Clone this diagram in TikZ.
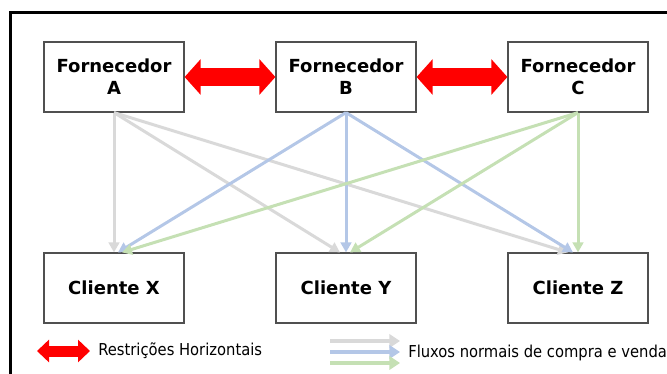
\documentclass[tikz,border=0pt]{standalone}
\usepackage{fontspec}
\setmainfont{DejaVu Sans}
\newfontfamily\legendfont{DejaVu Sans Condensed}
\usetikzlibrary{arrows.meta, calc}
\definecolor{myred}{RGB}{255,0,0}
\definecolor{mygrey}{RGB}{217,217,217}
\definecolor{myblue}{RGB}{180,199,231}
\definecolor{mygreen}{RGB}{197,224,180}
\definecolor{myedge}{RGB}{80,80,80}
\tikzstyle{party} = [draw=myedge, line width=0.9pt, fill=white,
    minimum width=105pt, minimum height=52.5pt, inner sep=0pt,
    font=\fontsize{13.5}{16.5}\selectfont\bfseries, align=center]
\tikzstyle{restr} = [myred, line width=14pt,
    {Triangle[length=12pt,width=26pt]}-{Triangle[length=12pt,width=26pt]}]
\tikzstyle{flow} = [line width=2.25pt, -{Triangle[length=7.5pt,width=8pt]}]
\tikzstyle{legendtext} = [anchor=west, inner sep=0pt,
    font=\legendfont\fontsize{12.3}{14}\selectfont]

\begin{document}
\begin{tikzpicture}[x=0.75pt, y=-0.75pt]
    \useasboundingbox (0,0) rectangle (667,374);

    % outer frame
    \draw[line width=2.25pt] (10.5,380) -- (10.5,12.5) -- (670,12.5);

    % 1. Suppliers on top
    \node[party] (fa) at (114,77) {Fornecedor\\A};
    \node[party] (fb) at (346,77) {Fornecedor\\B};
    \node[party] (fc) at (578,77) {Fornecedor\\C};

    % 2. Clients below
    \node[party] (cx) at (114,288) {Cliente X};
    \node[party] (cy) at (346,288) {Cliente Y};
    \node[party] (cz) at (578,288) {Cliente Z};

    % 3. Horizontal restrictions between suppliers
    \draw[restr] (fa.east) -- (fb.west);
    \draw[restr] (fb.east) -- (fc.west);

    % 4. Normal buying and selling flows
    \draw[flow, mygrey] (fa.south) -- (cx.north);
    \draw[flow, mygrey] (fa.south) -- ($(cy.north)+(-6,0)$);
    \draw[flow, mygrey] (fa.south) -- ($(cz.north)+(-10,0)$);

    \draw[flow, myblue] (fb.south) -- ($(cx.north)+(4,0)$);
    \draw[flow, myblue] (fb.south) -- (cy.north);
    \draw[flow, myblue] (fb.south) -- ($(cz.north)+(-5,0)$);

    \draw[flow, mygreen] (fc.south) -- ($(cx.north)+(8,0)$);
    \draw[flow, mygreen] (fc.south) -- ($(cy.north)+(4,0)$);
    \draw[flow, mygreen] (fc.south) -- (cz.north);

    % legend
    \coordinate (lr1) at (37,351);
    \coordinate (lr2) at (90,351);
    \draw[myred, line width=8.25pt,
        {Triangle[length=9pt,width=16.5pt]}-{Triangle[length=9pt,width=16.5pt]}] (lr1) -- (lr2);
    \node[legendtext] (lrtext) at (98,351) {Restrições Horizontais};

    \coordinate (lg1) at (330,341);  \coordinate (lg2) at (400,341);
    \coordinate (lb1) at (330,352);  \coordinate (lb2) at (400,352);
    \coordinate (ln1) at (330,363);  \coordinate (ln2) at (400,363);
    \draw[mygrey, line width=3.2pt, -{Triangle[length=8pt,width=10pt]}] (lg1) -- (lg2);
    \draw[myblue, line width=3.2pt, -{Triangle[length=8pt,width=10pt]}] (lb1) -- (lb2);
    \draw[mygreen, line width=3.2pt, -{Triangle[length=8pt,width=10pt]}] (ln1) -- (ln2);
    \node[legendtext] (lftext) at (408,353) {Fluxos normais de compra e venda};

\end{tikzpicture}
\end{document}
